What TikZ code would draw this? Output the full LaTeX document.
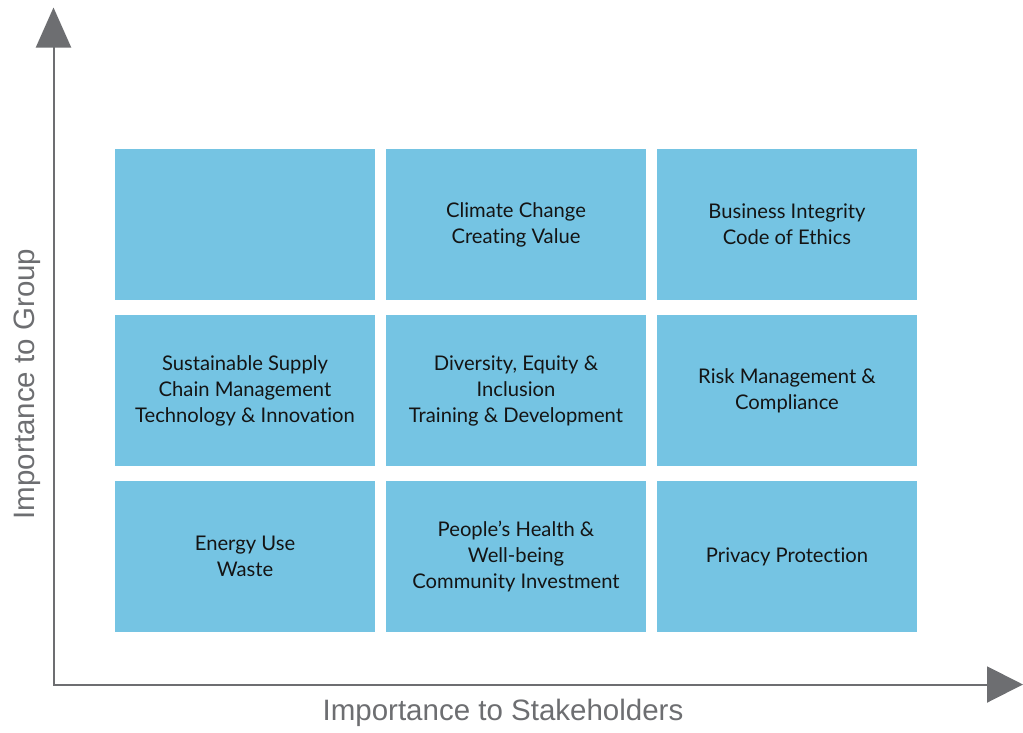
\documentclass[tikz,border=0pt]{standalone}
\usepackage{fontspec}
\setmainfont[RawFeature=-liga]{Lato}
\newfontfamily\axisfont{Liberation Sans}
\usetikzlibrary{arrows.meta}
\definecolor{cellblue}{HTML}{75C4E3}
\definecolor{axisgray}{HTML}{6D6E71}
\definecolor{celltext}{HTML}{141414}
\begin{document}
\begin{tikzpicture}[x=1pt,y=-1pt,
  cell/.style={fill=cellblue, draw=none, minimum width=260pt, minimum height=151pt,
    inner sep=0pt, align=center, text=celltext, font=\fontsize{20.2}{26}\selectfont},
  axisline/.style={draw=axisgray, line width=2pt},
  axlabel/.style={text=axisgray, font=\axisfont\fontsize{29.5}{32}\selectfont, inner sep=0pt}]
\useasboundingbox (0,0) rectangle (1023,732);
% cells
\node[cell] (c11) at (245,224.5) {};
\node[cell] (c12) at (516,224.5) {Climate Change\\Creating Value};
\node[cell] (c13) at (787,224.5) {Business Integrity\\Code of Ethics};
\node[cell] (c21) at (245,390.5) {Sustainable Supply\\Chain Management\\Technology \& Innovation};
\node[cell] (c22) at (516,390.5) {Diversity, Equity \&\\Inclusion\\Training \& Development};
\node[cell] (c23) at (787,390.5) {Risk Management \&\\Compliance};
\node[cell] (c31) at (245,556.5) {Energy Use\\Waste};
\node[cell] (c32) at (516,556.5) {People’s Health \&\\Well-being\\Community Investment};
\node[cell] (c33) at (787,556.5) {Privacy Protection};
% axes
\coordinate (o) at (53.5,684.5);
\coordinate (ytip) at (53.5,7.5);
\coordinate (xtip) at (1023,684.5);
\draw[axisline, line join=miter, {Triangle[length=40pt,width=35pt]}-{Triangle[length=36pt,width=36pt]}] (ytip) -- (o) -- (xtip);
\node[axlabel] (xl) at (503,713) {Importance to Stakeholders};
\node[axlabel, rotate=90] (yl) at (27,384) {Importance to Group};
\end{tikzpicture}
\end{document}
